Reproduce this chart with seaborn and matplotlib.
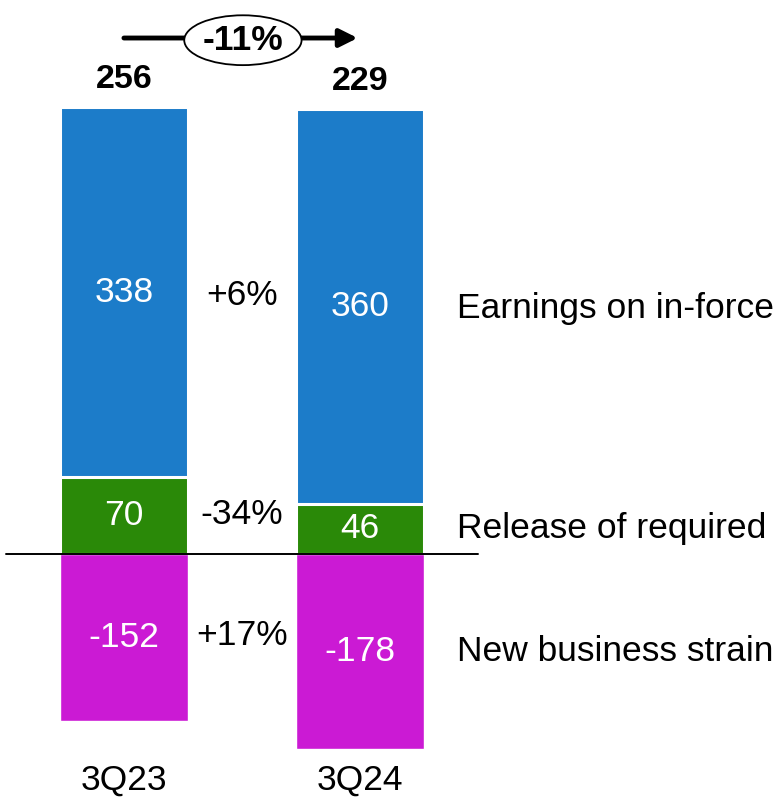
import matplotlib
matplotlib.use("Agg")
import matplotlib.pyplot as plt
from matplotlib.patches import Ellipse
import seaborn as sns
import pandas as pd

# Data
quarters = ["3Q23", "3Q24"]
earnings_in_force = [338, 360]
release_required = [70, 46]
new_business_strain = [-152, -178]
totals = [256, 229]
segment_labels = ["Earnings on in-force", "Release of required", "New business strain"]
segment_changes = ["+6%", "-34%", "+17%"]
total_change = "-11%"

BLUE = "#1C7CC9"
GREEN = "#2A8908"
MAGENTA = "#CB1AD4"

sns.set_theme(style="white")
plt.rcParams["font.family"] = ["Liberation Sans", "DejaVu Sans"]

fig = plt.figure(figsize=(7.83, 8.07), dpi=100)
ax = fig.add_axes([0, 0, 1, 1])

df = pd.DataFrame({
    "quarter": quarters,
    "eif": earnings_in_force,
    "rr": release_required,
    "nbs": new_business_strain,
})
df["positive"] = df["eif"] + df["rr"]

bar_w = 0.542
# stacked positives: full positive height in blue, release of required overlaid in green
sns.barplot(data=df, x="quarter", y="positive", color=BLUE, saturation=1,
            width=bar_w, edgecolor="white", linewidth=2.2, ax=ax)
sns.barplot(data=df, x="quarter", y="rr", color=GREEN, saturation=1,
            width=bar_w, edgecolor="white", linewidth=2.2, ax=ax)
sns.barplot(data=df, x="quarter", y="nbs", color=MAGENTA, saturation=1,
            width=bar_w, edgecolor="white", linewidth=1.0, ax=ax)

ax.set_xlim(-0.525, 2.792)
ax.set_ylim(-230.9, 505.7)
ax.axis("off")

# zero line
ax.plot([-0.5, 1.5], [0, 0], color="black", lw=1.4, zorder=5)

fs = 25.5
for i in range(len(quarters)):
    eif, rr, nbs = earnings_in_force[i], release_required[i], new_business_strain[i]
    ax.text(i, rr + eif / 2, str(eif), color="white", ha="center", va="center", fontsize=fs)
    ax.text(i, rr / 2, str(rr), color="white", ha="center", va="center", fontsize=fs)
    ax.text(i, nbs / 2, str(nbs), color="white", ha="center", va="center", fontsize=fs)
    ax.text(i, eif + rr + 25, str(totals[i]), color="black", ha="center", va="center",
            fontsize=24.5, fontweight="bold")
    ax.text(i, -206, quarters[i], color="black", ha="center", va="center", fontsize=fs)

# change labels between bars, aligned with 3Q23 segments
ys_mid = [release_required[0] + earnings_in_force[0] / 2 - 3,
          release_required[0] / 2 + 1,
          new_business_strain[0] / 2 + 2]
for y, t in zip(ys_mid, segment_changes):
    ax.text(0.5, y, t, color="black", ha="center", va="center", fontsize=fs)

# segment names on the right, aligned with 3Q24 segments
ys_right = [release_required[1] + earnings_in_force[1] / 2 - 2,
            release_required[1] / 2,
            new_business_strain[1] / 2]
for y, t in zip(ys_right, segment_labels):
    ax.text(1.413, y, t, color="black", ha="left", va="center", fontsize=fs)

# total change arrow with ellipse
ay = 471
ax.annotate("", xy=(0.99, ay), xytext=(0.0, ay),
            arrowprops=dict(arrowstyle="-|>,head_length=0.9,head_width=0.45",
                            color="black", lw=3.5, shrinkA=0, shrinkB=0), zorder=6)
ell = Ellipse((0.504, 469), width=0.497, height=45.5, facecolor="white",
              edgecolor="black", lw=1.3, zorder=7)
ax.add_patch(ell)
ax.text(0.504, 469, total_change, color="black", ha="center", va="center",
        fontsize=25.5, fontweight="bold", zorder=8)

fig.savefig("out.png", dpi=100)
